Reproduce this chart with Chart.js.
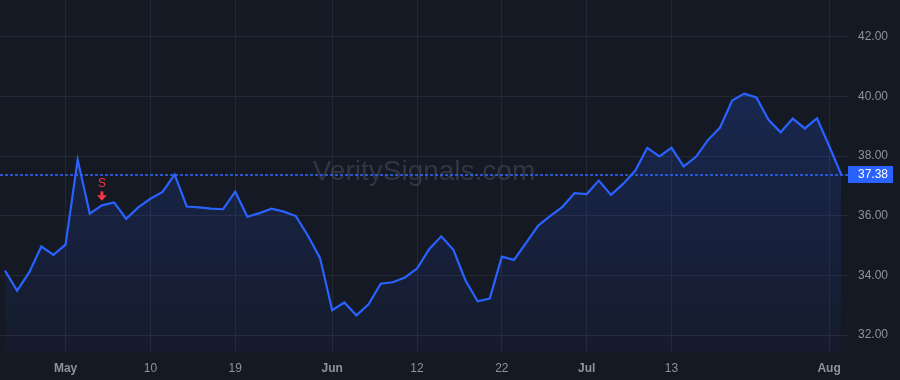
<!DOCTYPE html>
<html>
<head>
<meta charset="utf-8">
<script src="https://cdn.jsdelivr.net/npm/chart.js@4"></script>
<style>
  html, body { margin: 0; padding: 0; background: #151924; }
  canvas { display: block; }
</style>
</head>
<body>
<canvas id="priceChart" width="900" height="380"></canvas>
<script>
// Globals
var LINE_BLUE = '#2962ff';
var GRID = '#242834';
var TEXT = '#8f929b';

// ----------------- DATA -----------------
// trading days, Apr 24 - Aug 2 2023
var dates = [
  '04-24','04-25','04-26','04-27','04-28',
  '05-01','05-02','05-03','05-04','05-05','05-08','05-09','05-10','05-11','05-12',
  '05-15','05-16','05-17','05-18','05-19','05-22','05-23','05-24','05-25','05-26',
  '05-30','05-31',
  '06-01','06-02','06-05','06-06','06-07','06-08','06-09','06-12','06-13','06-14',
  '06-15','06-16','06-20','06-21','06-22','06-23','06-26','06-27','06-28','06-29','06-30',
  '07-03','07-05','07-06','07-07','07-10','07-11','07-12','07-13','07-14','07-17',
  '07-18','07-19','07-20','07-21','07-24','07-25','07-26','07-27','07-28','07-31',
  '08-01','08-02'
];

// closing prices
var closes = [
  34.16, 33.49, 34.10, 34.97, 34.69,
  35.03, 37.88, 36.07, 36.35, 36.45, 35.90, 36.28, 36.57, 36.80, 37.38,
  36.31, 36.28, 36.24, 36.22, 36.81, 35.97, 36.09, 36.24, 36.14, 35.99,
  35.33, 34.58,
  32.83, 33.09, 32.66, 33.03, 33.72, 33.77, 33.93, 34.23, 34.88, 35.31,
  34.86, 33.83, 33.13, 33.22, 34.63, 34.52, 35.09, 35.67, 36.00, 36.30, 36.76,
  36.73, 37.18, 36.70, 37.07, 37.51, 38.28, 37.99, 38.28, 37.66, 37.97,
  38.54, 38.96, 39.87, 40.10, 39.97, 39.22, 38.80, 39.26, 38.93, 39.27,
  38.35, 37.38
];

// x axis tick labels and the dates they sit on
var tickDates = ['05-01', '05-10', '05-19', '06-01', '06-12', '06-22', '07-03', '07-13', '08-01'];
var tickLabels = ['May', '10', '19', 'Jun', '12', '22', 'Jul', '13', 'Aug'];
var monthTicks = ['May', 'Jun', 'Jul', 'Aug'];

// y axis ticks
var priceTicks = [32, 34, 36, 38, 40, 42];

// signal markers
var signalDates = ['05-04'];
var signalTexts = ['S'];

var lastPrice = closes[closes.length - 1];

// ----------------- HELPERS -----------------
var tickIdx = tickDates.map(function(d){ return dates.indexOf(d); });

function labelFor(v){
    var k = tickIdx.indexOf(v);
    return k < 0 ? '' : tickLabels[k];
}

// ----------------- PLUGINS -----------------
var watermark = {
    id: 'watermark',
    beforeDatasetsDraw: function(chart){
        var c = chart.ctx, a = chart.chartArea;
        c.save();
        c.font = '28px "Liberation Sans", Arial, sans-serif';
        c.fillStyle = 'rgba(150, 155, 170, 0.22)';
        c.textAlign = 'center';
        c.textBaseline = 'middle';
        c.fillText('VeritySignals.com', (a.left + a.right) / 2, 172);
        c.restore();
    }
};

var priceLine = {
    id: 'priceLine',
    afterDatasetsDraw: function(chart){
        var c = chart.ctx, a = chart.chartArea;
        var y = Math.round(chart.scales.y.getPixelForValue(lastPrice));
        c.save();
        c.strokeStyle = '#2f6bff';
        c.lineWidth = 1.5;
        c.setLineDash([3, 2]);
        c.beginPath();
        c.moveTo(a.left, y);
        c.lineTo(a.right, y);
        c.stroke();
        c.setLineDash([]);
        c.fillStyle = LINE_BLUE;
        c.fillRect(a.right, y - 9, 45, 17);
        c.fillStyle = '#ffffff';
        c.font = '12px "Liberation Sans", Arial, sans-serif';
        c.textAlign = 'left';
        c.textBaseline = 'middle';
        c.fillText(lastPrice.toFixed(2), a.right + 10, y);
        c.restore();
    }
};

var signals = {
    id: 'signals',
    afterDatasetsDraw: function(chart){
        var c = chart.ctx;
        c.save();
        for (var i = 0; i < signalDates.length; i++){
            var idx = dates.indexOf(signalDates[i]);
            var x = chart.scales.x.getPixelForValue(idx);
            var y = chart.scales.y.getPixelForValue(closes[idx]);
            c.fillStyle = '#f23645';
            c.font = '12px "Liberation Sans", Arial, sans-serif';
            c.textAlign = 'center';
            c.textBaseline = 'middle';
            c.fillText(signalTexts[i], x, y - 22);
            // down arrow
            var top = y - 14;
            c.fillRect(x - 1.5, top, 3, 5);
            c.beginPath();
            c.moveTo(x - 5, top + 4);
            c.lineTo(x + 5, top + 4);
            c.lineTo(x, top + 9.5);
            c.closePath();
            c.fill();
        }
        c.restore();
    }
};

// ----------------- CHART -----------------
var ctx = document.getElementById('priceChart');

new Chart(ctx, {
    type: 'line',
    data: {
        datasets: [{
            data: closes.map(function(v, i){ return {x: i, y: v}; }),
            borderColor: LINE_BLUE,
            borderWidth: 2.2,
            pointRadius: 0,
            tension: 0,
            fill: 'start',
            backgroundColor: function(context){
                var a = context.chart.chartArea;
                if (!a) return 'rgba(41, 98, 255, 0.1)';
                var g = context.chart.ctx.createLinearGradient(0, a.top, 0, a.bottom);
                g.addColorStop(0, 'rgba(41, 98, 255, 0.26)');
                g.addColorStop(1, 'rgba(41, 98, 255, 0.04)');
                return g;
            }
        }]
    },
    options: {
        responsive: false,
        animation: false,
        layout: { padding: 0 },
        plugins: {
            legend: { display: false },
            tooltip: { enabled: false }
        },
        scales: {
            x: {
                type: 'linear',
                min: -0.41,
                max: 69.56,
                grid: { color: GRID, drawTicks: false },
                border: { display: false },
                afterBuildTicks: function(scale){
                    scale.ticks = tickIdx.map(function(i){ return {value: i}; });
                },
                afterFit: function(scale){
                    scale.height = 28;
                    scale.paddingLeft = 0;
                    scale.paddingRight = 0;
                },
                ticks: {
                    color: TEXT,
                    padding: 9,
                    maxRotation: 0,
                    autoSkip: false,
                    font: function(context){
                        var lbl = tickLabels[context.index];
                        return {
                            family: '"Liberation Sans", Arial, sans-serif',
                            size: 12,
                            weight: monthTicks.indexOf(lbl) >= 0 ? 'bold' : 'normal'
                        };
                    },
                    callback: function(value){ return labelFor(value); }
                }
            },
            y: {
                position: 'right',
                min: 31.43,
                max: 43.24,
                grid: { color: GRID, drawTicks: false },
                border: { display: false },
                afterBuildTicks: function(scale){
                    scale.ticks = priceTicks.map(function(v){ return {value: v}; });
                },
                afterFit: function(scale){
                    scale.width = 52;
                    scale.paddingTop = 0;
                    scale.paddingBottom = 0;
                },
                ticks: {
                    color: TEXT,
                    padding: 10,
                    font: { family: '"Liberation Sans", Arial, sans-serif', size: 12 },
                    callback: function(value){ return value.toFixed(2); }
                }
            }
        }
    },
    plugins: [watermark, priceLine, signals]
});
</script>
</body>
</html>
